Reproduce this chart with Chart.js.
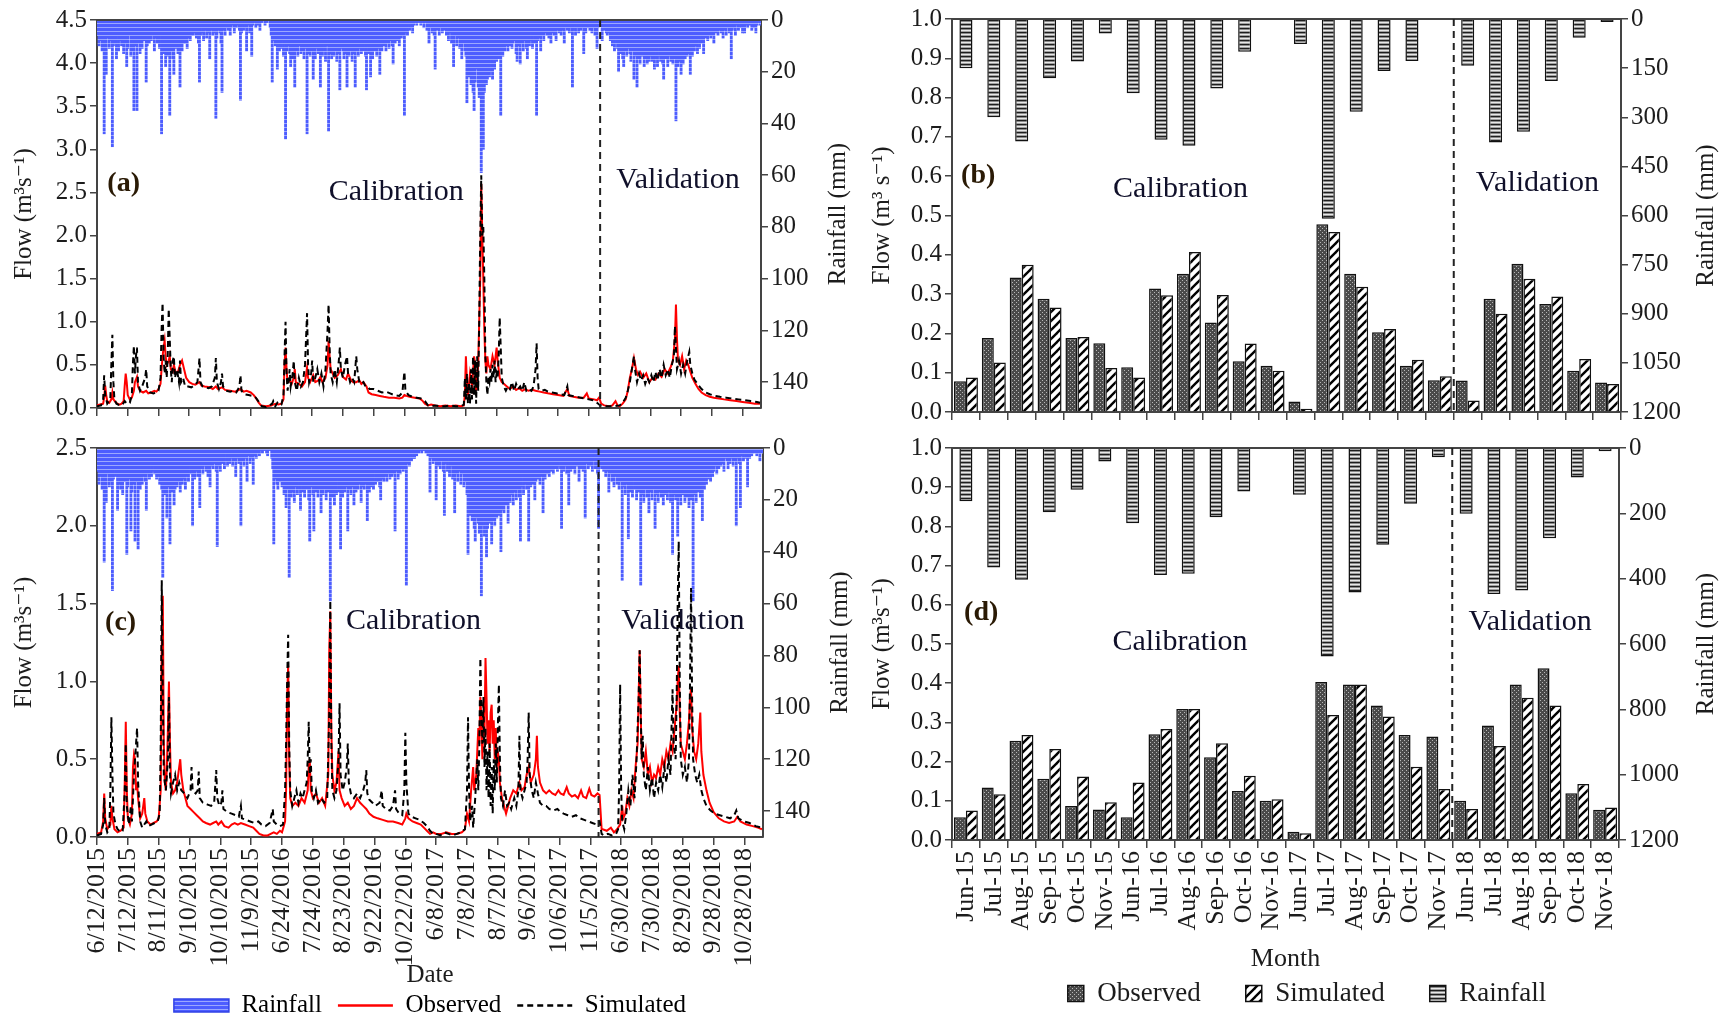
<!DOCTYPE html>
<html>
<head>
<meta charset="utf-8">
<script src="https://cdn.jsdelivr.net/npm/chart.js@4.4.1/dist/chart.umd.min.js"></script>
<style>
  html, body { margin: 0; padding: 0; background: #fff; }
  body { width: 1728px; height: 1019px; position: relative; overflow: hidden; }
  canvas { position: absolute; }
</style>
</head>
<body>
<canvas id="dailyA" width="860" height="430" style="left:0;top:0"></canvas>
<canvas id="dailyC" width="860" height="600" style="left:0;top:430px"></canvas>
<canvas id="monthB" width="878" height="430" style="left:850px;top:0"></canvas>
<canvas id="monthD" width="878" height="600" style="left:850px;top:430px"></canvas>
<script>
"use strict";
// tick labels
var dateLabels = ["6/12/2015", "7/12/2015", "8/11/2015", "9/10/2015", "10/10/2015", "11/9/2015",
  "6/24/2016", "7/24/2016", "8/23/2016", "9/22/2016", "10/22/2016",
  "6/8/2017", "7/8/2017", "8/7/2017", "9/6/2017", "10/6/2017", "11/5/2017",
  "6/30/2018", "7/30/2018", "8/29/2018", "9/28/2018", "10/28/2018"];
var monthLabels = ["Jun-15", "Jul-15", "Aug-15", "Sep-15", "Oct-15", "Nov-15",
  "Jun-16", "Jul-16", "Aug-16", "Sep-16", "Oct-16", "Nov-16",
  "Jun-17", "Jul-17", "Aug-17", "Sep-17", "Oct-17", "Nov-17",
  "Jun-18", "Jul-18", "Aug-18", "Sep-18", "Oct-18", "Nov-18"];

// (a) daily rainfall, mm (one value per day)
var rainA = [
  3,6,10,4,8,12,5,44,9,21,7,4,11,6,8,49,10,5,9,15,
  6,12,8,4,10,7,13,5,9,18,11,6,4,14,9,12,35,8,10,35,
  9,5,13,7,11,4,8,6,24,10,5,9,3,8,6,4,12,7,5,9,
  8,11,6,44,9,13,7,18,10,14,6,37,12,8,15,21,9,11,7,13,
  10,26,8,12,6,9,9,5,11,7,4,8,6,3,6,5,2,7,4,9,
  24,6,3,5,8,2,4,7,3,5,15,4,2,6,3,5,38,7,4,3,
  5,9,28,4,2,6,3,1,4,2,6,3,0,2,5,1,3,0,2,4,
  31,5,2,4,1,3,12,2,0,5,3,14,2,0,1,3,0,2,0,4,
  0,1,0,0,2,0,1,0,0,3,6,24,8,5,10,7,19,9,12,6,
  11,8,14,9,46,12,7,10,13,18,9,15,11,26,8,12,14,7,10,13,
  9,12,15,8,11,44,13,10,14,9,12,23,8,15,11,9,13,10,26,12,
  14,9,12,16,10,8,43,13,11,15,9,14,12,10,16,8,13,27,11,9,
  12,15,10,13,26,11,14,9,12,16,10,13,26,12,9,14,11,8,13,10,
  12,9,14,27,10,13,8,22,11,15,9,12,10,14,8,11,21,9,12,7,
  10,8,12,6,9,11,5,8,10,17,7,9,4,8,6,10,5,7,3,6,
  37,5,3,6,2,4,1,3,5,2,0,1,2,0,1,0,2,1,0,3,
  1,0,4,2,9,3,1,5,2,6,19,3,4,2,6,3,1,5,2,4,
  3,6,2,8,4,5,9,3,18,6,4,10,7,5,11,8,15,9,6,12,
  14,32,18,22,16,25,20,28,35,24,19,18,26,30,22,59,34,50,28,21,
  25,23,18,22,15,20,23,14,19,12,16,11,15,13,37,10,14,9,12,10,
  8,12,7,10,6,11,9,5,8,13,16,7,10,17,6,9,12,5,8,11,
  15,7,10,5,8,11,6,9,4,37,8,5,7,12,6,3,8,5,2,6,
  4,7,3,9,5,2,6,3,8,4,1,5,3,6,2,4,9,3,1,4,
  2,5,3,1,26,4,2,6,1,3,5,2,4,1,3,13,2,5,1,3,
  2,4,1,5,3,1,6,2,11,3,1,2,0,8,3,4,2,5,6,3,
  5,8,4,10,6,12,7,9,11,20,8,13,10,15,18,9,12,14,8,11,
  13,16,10,12,23,14,11,26,15,12,17,10,14,13,18,11,15,17,12,16,
  14,11,16,13,19,12,15,18,10,14,16,12,17,23,13,15,11,18,14,12,
  16,13,17,12,15,39,14,18,11,16,21,13,17,10,15,12,14,9,13,21,
  11,14,9,12,8,10,13,7,11,6,9,8,13,5,7,4,8,6,3,7,
  4,6,9,3,5,2,6,4,1,5,3,7,2,4,6,3,1,5,2,15,
  4,1,3,6,2,0,4,1,3,2,5,1,5,2,0,3,1,2,0,4,
  1,3,0,5,2,0,1,2
];
// (a) flow, [day, m3/s]
var obsA = [[0,0.03],[3,0.04],[6,0.05],[7,0.12],[8,0.26],[9,0.15],[10,0.08],[12,0.06],[14,0.1],[15,0.18],[16,0.1],[18,0.07],[20,0.05],[22,0.04],[24,0.05],[26,0.08],[27,0.25],[28,0.4],[29,0.3],[30,0.15],[32,0.1],[34,0.12],[36,0.2],[37,0.3],[39,0.36],[40,0.25],[42,0.2],[45,0.18],[48,0.2],[50,0.17],[53,0.18],[56,0.2],[58,0.19],[60,0.22],[62,0.28],[63,0.45],[64,0.6],[65,0.7],[66,0.78],[67,0.6],[68,0.5],[70,0.55],[71,0.6],[72,0.45],[74,0.42],[75,0.5],[77,0.4],[79,0.42],[81,0.5],[83,0.55],[85,0.45],[87,0.35],[90,0.3],[93,0.28],[96,0.27],[100,0.3],[102,0.26],[105,0.25],[110,0.24],[113,0.22],[116,0.25],[118,0.22],[122,0.24],[125,0.21],[130,0.2],[135,0.19],[140,0.22],[143,0.19],[146,0.2],[150,0.18],[153,0.15],[156,0.1],[158,0.06],[160,0.03],[165,0.02],[170,0.03],[174,0.05],[177,0.04],[180,0.05],[182,0.1],
  [183,0.5],[184,0.7],[185,0.45],[186,0.3],[188,0.32],[190,0.28],[192,0.35],[193,0.45],[194,0.3],[197,0.28],[200,0.25],[203,0.3],[205,0.47],[206,0.35],[208,0.3],[211,0.38],[213,0.3],[216,0.32],[218,0.36],[220,0.3],[223,0.35],[225,0.5],[226,0.78],[227,0.6],[228,0.45],[230,0.4],[232,0.35],[235,0.38],[238,0.45],[240,0.36],[243,0.33],[245,0.4],[248,0.32],[250,0.3],[253,0.3],[256,0.32],[258,0.28],[260,0.3],[263,0.25],[265,0.18],[268,0.16],[272,0.15],[276,0.14],[280,0.13],[285,0.12],[290,0.12],[295,0.11],[298,0.12],[300,0.15],[302,0.14],[305,0.13],[310,0.12],[315,0.11],[318,0.08],[320,0.05],[323,0.03],[326,0.04],
  [330,0.03],[335,0.02],[340,0.03],[345,0.02],[350,0.03],[355,0.02],[358,0.03],[359,0.15],[360,0.6],[361,0.3],[362,0.15],[364,0.4],[366,0.25],[368,0.6],[369,0.5],[370,0.2],[372,0.5],[374,1.5],[375,2.6],[376,2.0],[377,1.5],[378,0.9],[379,0.55],[380,0.4],[381,0.6],[382,0.5],[384,0.45],[386,0.6],[388,0.5],[390,0.7],[391,0.55],[393,0.35],[395,0.3],[397,0.28],[400,0.25],[403,0.22],[406,0.25],[409,0.21],[412,0.23],[415,0.2],[418,0.22],[421,0.2],[425,0.21],[428,0.2],[432,0.19],[436,0.18],[440,0.17],[445,0.16],[450,0.15],[455,0.14],[459,0.22],[461,0.14],[465,0.13],[470,0.12],[475,0.12],[478,0.17],[480,0.11],[485,0.1],[488,0.09],[490,0.12],[492,0.05],
  [495,0.03],[500,0.02],[503,0.03],[506,0.08],[508,0.03],[510,0.02],[513,0.05],[516,0.1],[518,0.2],[520,0.35],[522,0.45],[524,0.58],[526,0.45],[528,0.38],[530,0.42],[533,0.35],[536,0.4],[539,0.3],[542,0.35],[545,0.33],[548,0.4],[551,0.36],[554,0.45],[557,0.4],[560,0.48],[562,0.55],[564,0.8],[565,1.2],[566,0.8],[567,0.55],[569,0.5],[571,0.6],[573,0.45],[575,0.55],[577,0.5],[579,0.42],[581,0.35],[584,0.28],[587,0.22],[590,0.18],[594,0.15],[598,0.13],[602,0.12],[607,0.11],[612,0.1],[618,0.09],[624,0.08],[630,0.07],[636,0.06],[642,0.05],[647,0.05]];
var simA = [[0,0.02],[4,0.03],[6,0.1],[7,0.38],[8,0.15],[10,0.05],[13,0.1],[14,0.5],[15,0.85],[16,0.3],[17,0.1],[19,0.05],[22,0.03],[25,0.04],[27,0.08],[29,0.05],[32,0.06],[34,0.15],[35,0.5],[36,0.72],[37,0.4],[38,0.6],[39,0.7],[40,0.3],[42,0.2],[44,0.25],[47,0.35],[48,0.45],[49,0.25],[52,0.18],[55,0.17],[58,0.18],[60,0.2],[62,0.35],[63,0.9],[64,1.22],[65,0.6],[66,0.4],[67,0.55],[68,0.35],[69,0.6],[70,1.15],[71,0.8],[72,0.45],[73,0.3],[74,0.55],[75,0.6],[76,0.35],[78,0.45],[80,0.3],[81,0.55],[82,0.3],[84,0.35],[86,0.25],[89,0.25],[92,0.24],[95,0.26],[98,0.3],[100,0.58],[101,0.3],[103,0.25],[106,0.24],[109,0.23],[112,0.25],[115,0.35],[116,0.58],[117,0.3],[119,0.22],[121,0.3],[122,0.4],[123,0.25],[126,0.2],[130,0.19],[133,0.2],[136,0.18],[139,0.25],[140,0.38],[141,0.2],[144,0.16],[148,0.15],[152,0.14],[155,0.12],[158,0.07],[161,0.02],[165,0.01],[168,0.03],[171,0.05],[172,0.08],[174,0.02],[176,0.06],[178,0.03],[180,0.04],[182,0.15],
  [183,0.6],[184,1.0],[185,0.4],[186,0.2],[187,0.3],[188,0.45],[189,0.25],[191,0.4],[192,0.55],[193,0.3],[195,0.2],[197,0.35],[199,0.25],[201,0.3],[203,0.5],[204,0.8],[205,1.1],[206,0.5],[207,0.3],[209,0.4],[210,0.55],[211,0.3],[213,0.35],[215,0.45],[217,0.3],[219,0.4],[221,0.25],[223,0.45],[225,0.9],[226,1.2],[227,0.7],[228,0.4],[230,0.3],[232,0.45],[234,0.3],[236,0.55],[237,0.7],[238,0.45],[240,0.35],[242,0.5],[244,0.6],[245,0.4],[247,0.3],[249,0.35],[251,0.3],[253,0.6],[254,0.45],[256,0.3],[258,0.28],[260,0.3],[262,0.25],[264,0.25],[266,0.22],[270,0.22],[274,0.2],[278,0.18],[282,0.19],[286,0.17],[290,0.15],[295,0.14],[298,0.18],[300,0.42],[301,0.2],[304,0.15],[308,0.13],[312,0.12],[316,0.11],[320,0.08],[323,0.03],[326,0.02],
  [330,0.03],[335,0.02],[340,0.02],[345,0.03],[350,0.02],[355,0.02],[358,0.04],[359,0.35],[360,0.1],[361,0.4],[362,0.05],[363,0.3],[364,0.05],[365,0.45],[366,0.1],[367,0.6],[368,0.15],[369,0.55],[370,0.05],[371,0.6],[372,0.2],[373,1.0],[374,2.0],[375,2.7],[376,2.0],[377,2.1],[378,1.5],[379,0.6],[380,0.3],[381,0.15],[382,0.35],[383,0.3],[384,0.45],[385,0.3],[386,0.5],[387,0.35],[388,0.55],[389,0.3],[390,0.4],[391,0.35],[392,0.6],[393,1.05],[394,0.7],[395,0.35],[397,0.25],[399,0.2],[401,0.25],[403,0.22],[405,0.3],[407,0.2],[409,0.28],[411,0.22],[413,0.25],[415,0.2],[417,0.3],[419,0.2],[421,0.22],[424,0.2],[426,0.25],[428,0.45],[429,0.75],[430,0.35],[431,0.22],[434,0.2],[437,0.21],[440,0.19],[444,0.18],[448,0.17],[452,0.16],[456,0.15],[459,0.25],[460,0.15],[464,0.14],[468,0.13],[472,0.12],[476,0.11],[480,0.1],[484,0.09],[488,0.06],[491,0.03],
  [495,0.02],[500,0.02],[505,0.02],[510,0.03],[513,0.06],[516,0.12],[518,0.2],[520,0.3],[522,0.45],[524,0.6],[525,0.45],[527,0.3],[529,0.4],[531,0.32],[533,0.38],[535,0.28],[537,0.35],[539,0.3],[541,0.38],[543,0.3],[545,0.42],[547,0.32],[549,0.45],[551,0.35],[553,0.5],[555,0.38],[557,0.45],[559,0.35],[561,0.5],[563,0.6],[564,0.95],[565,0.7],[566,0.45],[568,0.55],[570,0.4],[572,0.5],[574,0.4],[576,0.55],[578,0.65],[579,0.5],[581,0.4],[583,0.33],[586,0.28],[590,0.22],[594,0.18],[598,0.16],[603,0.14],[608,0.13],[614,0.12],[620,0.11],[626,0.1],[632,0.09],[638,0.08],[644,0.07],[647,0.06]];

// (c) daily rainfall, mm
var rainC = [
  5,9,14,6,11,16,8,44,12,21,10,7,15,9,13,55,12,8,11,10,
  24,14,9,16,11,18,8,13,10,41,15,12,9,32,17,11,14,36,13,10,
  39,12,16,9,14,11,7,13,24,10,8,12,6,11,9,7,10,8,12,9,
  11,14,9,16,50,13,18,12,27,15,10,37,14,17,12,22,16,11,15,13,
  12,17,10,14,9,12,16,8,11,13,7,10,9,30,8,12,6,9,11,7,
  23,8,5,10,7,4,9,6,11,5,15,7,3,8,6,4,9,38,5,7,
  9,4,6,3,8,2,5,7,3,6,4,2,7,3,5,11,4,2,6,3,
  30,5,3,7,2,4,13,3,1,6,4,2,14,3,1,4,2,0,3,1,
  0,2,0,1,0,2,3,0,1,0,4,8,37,12,9,14,16,11,13,9,
  15,12,18,10,23,16,13,50,14,19,11,17,21,13,15,18,12,16,24,14,
  17,13,19,11,16,14,20,36,15,12,18,32,14,17,13,19,11,16,25,15,
  18,13,16,20,12,17,14,59,15,19,13,22,16,18,12,17,14,39,15,19,
  13,17,15,12,32,16,14,18,11,15,22,13,17,12,16,14,11,21,15,12,
  16,11,14,28,13,17,10,15,12,16,9,14,11,13,10,15,20,12,9,13,
  11,8,13,10,7,12,9,11,8,10,32,7,9,12,6,10,8,5,9,7,
  8,53,6,4,7,3,5,2,4,4,1,3,0,2,1,0,2,1,0,1,
  2,0,3,1,17,4,2,6,3,5,20,4,7,3,8,5,2,9,26,6,
  5,9,4,11,7,6,12,8,25,10,7,13,9,6,14,10,8,15,11,13,
  18,41,22,26,19,28,24,31,36,27,23,29,33,25,57,30,27,34,29,42,
  31,26,29,24,37,28,22,30,25,27,21,26,23,40,24,20,25,18,22,19,
  29,16,21,14,18,22,13,17,20,12,16,19,36,15,11,18,14,10,16,13,
  36,12,15,9,14,11,20,13,8,12,10,14,7,11,25,9,12,6,10,8,
  11,7,9,5,10,6,8,4,9,7,5,8,31,6,9,4,7,10,5,22,
  6,9,4,8,5,10,3,7,6,13,4,8,5,9,3,27,6,4,8,5,
  7,4,9,5,3,8,6,10,31,7,4,8,5,9,6,11,7,9,17,8,
  10,13,8,15,11,9,14,12,16,10,13,51,15,12,18,14,11,35,13,17,
  15,19,12,16,14,20,13,17,15,53,18,14,21,16,12,19,15,25,17,14,
  20,16,13,31,18,15,21,14,17,19,13,22,16,18,14,20,15,17,21,16,
  41,18,15,20,17,34,14,19,22,16,18,15,21,13,19,16,23,14,20,17,
  59,18,15,21,14,17,12,19,15,28,13,16,11,14,9,12,10,13,8,11,
  9,6,7,10,5,8,4,7,3,6,9,4,2,5,8,3,6,2,4,7,
  3,5,30,4,2,6,23,3,1,5,2,4,3,15,2,4,1,3,2,1,
  2,0,3,1,2,5,1,2
];
var obsC = [[0,0.02],[4,0.03],[6,0.1],[7,0.28],[8,0.12],[10,0.05],[13,0.08],[14,0.2],[15,0.12],[17,0.05],[20,0.03],[23,0.04],[26,0.06],[27,0.35],[28,0.74],[29,0.3],[30,0.12],[32,0.08],[34,0.15],[35,0.45],[36,0.53],[37,0.5],[38,0.3],[39,0.35],[40,0.25],[42,0.12],[44,0.15],[46,0.25],[47,0.15],[49,0.1],[52,0.08],[55,0.09],[58,0.1],[60,0.12],[62,0.3],[63,1.2],[64,1.55],[65,0.6],[66,0.35],[67,0.3],[68,0.45],[69,0.7],[70,1.0],[71,0.6],[72,0.35],[74,0.28],[76,0.3],[78,0.35],[80,0.45],[81,0.5],[82,0.4],[84,0.3],[86,0.25],[88,0.2],[91,0.18],[94,0.16],[97,0.14],[100,0.12],[103,0.1],[106,0.09],[110,0.08],[113,0.09],[116,0.1],[118,0.08],[121,0.1],[124,0.07],[128,0.06],[131,0.08],[134,0.09],[137,0.08],[140,0.09],[144,0.08],[148,0.07],[152,0.06],[155,0.04],[158,0.02],[162,0.01],[166,0.01],[169,0.02],[172,0.03],[175,0.02],[178,0.04],[180,0.03],
  [183,0.1],[184,0.3],[185,0.9],[186,1.1],[187,0.5],[188,0.25],[190,0.2],[193,0.22],[196,0.2],[199,0.25],[202,0.22],[205,0.3],[206,0.45],[207,0.5],[208,0.3],[210,0.25],[213,0.28],[216,0.22],[219,0.25],[222,0.2],[225,0.4],[226,1.2],[227,1.45],[228,0.7],[229,0.4],[231,0.3],[233,0.35],[235,0.55],[236,0.3],[238,0.25],[241,0.2],[244,0.22],[247,0.18],[250,0.2],[253,0.25],[256,0.22],[259,0.2],[262,0.18],[265,0.15],[269,0.13],[273,0.12],[278,0.11],[283,0.1],[288,0.1],[293,0.09],[297,0.08],[300,0.12],[301,0.15],[303,0.12],[307,0.1],[311,0.09],[315,0.08],[318,0.06],[321,0.04],[324,0.02],[327,0.03],
  [330,0.02],[335,0.02],[340,0.03],[345,0.02],[350,0.02],[355,0.03],[358,0.05],[360,0.15],[362,0.1],[364,0.3],[366,0.45],[367,0.3],[369,0.4],[371,0.7],[372,0.6],[373,0.9],[374,0.75],[375,0.5],[376,0.8],[377,0.65],[378,1.15],[379,0.9],[380,0.6],[381,0.75],[382,0.55],[383,0.8],[384,0.85],[385,0.6],[386,0.75],[387,0.5],[388,0.7],[389,0.45],[390,0.55],[391,0.5],[392,0.35],[394,0.25],[396,0.2],[398,0.15],[400,0.2],[402,0.25],[405,0.3],[408,0.28],[411,0.35],[413,0.3],[416,0.32],[418,0.4],[420,0.45],[422,0.35],[425,0.4],[427,0.5],[428,0.65],[429,0.45],[431,0.35],[434,0.3],[437,0.28],[440,0.3],[443,0.28],[446,0.27],[449,0.3],[451,0.28],[454,0.27],[457,0.32],[459,0.28],[462,0.26],[465,0.27],[468,0.25],[471,0.3],[473,0.26],[476,0.25],[479,0.31],[481,0.27],[484,0.26],[487,0.28],[489,0.27],[491,0.05],
  [492,0.05],[496,0.04],[500,0.06],[503,0.03],[506,0.05],[509,0.08],[511,0.2],[512,0.12],[514,0.15],[516,0.25],[518,0.2],[520,0.3],[522,0.25],[524,0.45],[526,0.6],[527,0.9],[528,1.2],[529,0.8],[530,0.5],[532,0.45],[534,0.55],[536,0.4],[538,0.45],[540,0.35],[542,0.4],[544,0.38],[546,0.45],[548,0.4],[550,0.5],[552,0.45],[554,0.55],[556,0.5],[558,0.6],[560,0.55],[562,0.7],[564,0.85],[565,1.0],[566,1.1],[567,0.8],[568,0.6],[570,0.55],[572,0.5],[574,0.6],[576,0.75],[577,0.9],[578,0.95],[579,0.7],[581,0.55],[583,0.5],[585,0.6],[587,0.8],[588,0.55],[590,0.4],[593,0.3],[596,0.22],[600,0.16],[605,0.12],[610,0.1],[615,0.09],[620,0.1],[623,0.13],[626,0.1],[632,0.08],[638,0.07],[643,0.06],[647,0.05]];
var simC = [[0,0.01],[4,0.02],[6,0.08],[7,0.25],[8,0.08],[10,0.03],[12,0.05],[13,0.3],[14,0.77],[15,0.4],[16,0.15],[18,0.08],[20,0.05],[23,0.03],[25,0.04],[27,0.3],[28,0.6],[29,0.2],[31,0.08],[33,0.2],[34,0.1],[36,0.4],[38,0.6],[39,0.7],[40,0.35],[42,0.1],[44,0.06],[46,0.08],[48,0.1],[50,0.07],[53,0.08],[56,0.09],[59,0.1],[61,0.15],[62,0.6],[63,1.65],[64,0.9],[65,0.4],[67,0.3],[69,0.5],[70,0.9],[71,0.4],[72,0.28],[74,0.35],[76,0.4],[78,0.3],[80,0.35],[82,0.3],[85,0.28],[88,0.25],[91,0.3],[92,0.45],[93,0.3],[96,0.28],[98,0.3],[99,0.42],[100,0.25],[103,0.22],[107,0.21],[111,0.2],[114,0.22],[116,0.43],[117,0.25],[119,0.2],[121,0.22],[122,0.3],[123,0.18],[127,0.16],[131,0.15],[135,0.14],[138,0.13],[140,0.2],[141,0.12],[145,0.11],[149,0.1],[153,0.09],[157,0.1],[160,0.08],[164,0.07],[168,0.09],[171,0.18],[172,0.1],[175,0.08],[178,0.07],[181,0.08],
  [183,0.3],[184,0.6],[185,1.0],[186,1.3],[187,0.6],[188,0.3],[190,0.2],[192,0.25],[194,0.3],[196,0.22],[198,0.28],[200,0.25],[202,0.3],[204,0.35],[205,0.5],[206,0.74],[207,0.4],[208,0.5],[209,0.3],[211,0.25],[213,0.3],[215,0.22],[218,0.25],[221,0.22],[224,0.25],[226,0.8],[227,1.52],[228,0.6],[229,0.3],[231,0.25],[233,0.3],[235,0.5],[236,0.86],[237,0.4],[239,0.3],[241,0.35],[243,0.45],[244,0.6],[245,0.35],[247,0.28],[250,0.25],[253,0.28],[256,0.25],[259,0.3],[261,0.35],[262,0.43],[263,0.28],[265,0.24],[268,0.22],[271,0.2],[275,0.22],[277,0.3],[278,0.2],[281,0.18],[285,0.17],[288,0.2],[290,0.3],[291,0.18],[294,0.15],[297,0.14],[299,0.3],[300,0.67],[301,0.35],[303,0.15],[306,0.13],[310,0.12],[314,0.11],[318,0.09],[321,0.07],[324,0.04],[327,0.02],
  [330,0.02],[334,0.01],[338,0.03],[342,0.02],[346,0.01],[350,0.02],[354,0.03],[358,0.05],[360,0.3],[361,0.77],[362,0.3],[363,0.1],[365,0.2],[366,0.06],[368,0.25],[370,0.5],[371,0.3],[372,0.6],[373,1.15],[374,0.8],[375,0.6],[376,0.9],[377,0.45],[378,0.7],[379,0.3],[380,0.55],[381,0.25],[382,0.6],[383,0.2],[384,0.45],[385,0.15],[386,0.5],[387,0.3],[388,0.6],[389,0.35],[390,0.7],[391,0.98],[392,0.5],[393,0.25],[395,0.2],[397,0.3],[399,0.2],[401,0.22],[403,0.18],[406,0.25],[408,0.2],[410,0.3],[411,0.65],[412,0.3],[414,0.25],[416,0.3],[418,0.35],[419,0.5],[420,0.8],[421,0.4],[423,0.3],[425,0.25],[427,0.35],[429,0.28],[431,0.22],[434,0.2],[437,0.2],[440,0.18],[444,0.17],[448,0.18],[451,0.16],[454,0.15],[458,0.14],[462,0.13],[466,0.14],[470,0.12],[474,0.11],[478,0.1],[482,0.09],[486,0.08],[489,0.1],[491,0.02],
  [493,0.01],[497,0.02],[501,0.01],[505,0.02],[507,0.05],[508,0.3],[509,0.98],[510,0.3],[511,0.1],[513,0.05],[515,0.15],[517,0.3],[519,0.2],[521,0.4],[523,0.25],[525,0.5],[527,0.9],[528,1.2],[529,0.8],[530,0.5],[531,0.65],[532,0.4],[534,0.3],[536,0.45],[538,0.3],[540,0.38],[542,0.25],[544,0.35],[546,0.3],[548,0.4],[550,0.32],[552,0.45],[554,0.35],[556,0.5],[558,0.4],[559,0.7],[560,0.95],[561,0.6],[563,0.5],[564,0.9],[565,1.5],[566,1.9],[567,1.0],[568,0.5],[570,0.4],[572,0.45],[574,0.35],[576,0.5],[577,1.0],[578,1.6],[579,0.9],[580,0.5],[582,0.4],[584,0.35],[586,0.4],[588,0.3],[590,0.25],[593,0.2],[597,0.17],[601,0.15],[606,0.14],[611,0.13],[616,0.12],[620,0.14],[622,0.17],[624,0.12],[629,0.1],[635,0.09],[641,0.07],[647,0.06]];

var splitA = 491, splitC = 488;   // day the validation period starts

// (b) monthly flow (m3/s) and rainfall (mm)
var obsB = [0.078,0.188,0.342,0.288,0.188,0.175, 0.114,0.314,0.352,0.228,0.129,0.118, 0.027,0.478,0.352,0.203,0.118,0.081, 0.080,0.288,0.377,0.275,0.105,0.075];
var simB = [0.088,0.126,0.375,0.266,0.191,0.112, 0.088,0.297,0.407,0.298,0.174,0.105, 0.008,0.458,0.319,0.211,0.133,0.091, 0.029,0.250,0.339,0.294,0.135,0.071];
var rainB = [150,300,374,181,130,44, 227,369,387,212,100,3, 76,610,283,159,128,3, 143,377,344,189,57,9];
// (d)
var obsD = [0.058,0.134,0.253,0.156,0.087,0.078, 0.058,0.270,0.334,0.211,0.125,0.100, 0.021,0.403,0.397,0.343,0.268,0.264, 0.100,0.292,0.397,0.438,0.119,0.077];
var simD = [0.075,0.117,0.268,0.232,0.162,0.096, 0.147,0.283,0.334,0.247,0.164,0.104, 0.017,0.319,0.397,0.315,0.187,0.130, 0.079,0.240,0.363,0.343,0.143,0.083];
var rainD = [163,366,403,197,128,41, 230,389,385,212,133,3, 143,638,442,296,171,28, 201,447,436,276,90,10];
var splitMonth = 18;   // Jun-18

var SERIF = '"Liberation Serif", "DejaVu Serif", serif';
Chart.defaults.font.family = SERIF;
Chart.defaults.color = "#1c1c1c";
Chart.defaults.animation = false;

function F(size, weight) { return { family: SERIF, size: size, weight: weight || "normal" }; }

function patterns(ctx) {
  function make(w, h, paint) {
    var c = document.createElement("canvas");
    c.width = w; c.height = h;
    paint(c.getContext("2d"));
    return ctx.createPattern(c, "repeat");
  }
  return {
    rain: make(2, 4, function (g) {
      g.fillStyle = "#4d5dff"; g.fillRect(0, 0, 2, 4);
      g.fillStyle = "#9ca7ff"; g.fillRect(0, 3, 2, 1);
    }),
    dots: make(4, 4, function (g) {
      g.fillStyle = "#4a4a4a"; g.fillRect(0, 0, 4, 4);
      g.fillStyle = "#b8b8b8"; g.fillRect(0, 0, 1, 1); g.fillRect(2, 2, 1, 1);
    }),
    hatch: make(9, 9, function (g) {
      g.fillStyle = "#fff"; g.fillRect(0, 0, 9, 9);
      g.strokeStyle = "#000"; g.lineWidth = 2.4;
      [-9, 0, 9].forEach(function (o) {
        g.beginPath(); g.moveTo(o - 1, 10); g.lineTo(o + 10, -1); g.stroke();
      });
    }),
    bands: make(1, 4, function (g) {
      ["#1e1e1e", "#8a8a8a", "#e8e8e8", "#a0a0a0"].forEach(function (c, i) {
        g.fillStyle = c; g.fillRect(0, i, 1, 1);
      });
    })
  };
}

// frame top line, validation split, notes and right-hand axis title
var decor = {
  id: "decor",
  afterDatasetsDraw: function (chart, args, o) {
    var ctx = chart.ctx, a = chart.chartArea, sx = chart.scales.x, sy = chart.scales.y;
    ctx.save();
    ctx.strokeStyle = "#444"; ctx.lineWidth = 2;
    ctx.beginPath(); ctx.moveTo(a.left, a.top); ctx.lineTo(a.right, a.top); ctx.stroke();
    if (o.split != null) {
      var px = o.between
        ? (sx.getPixelForValue(o.split - 1) + sx.getPixelForValue(o.split)) / 2
        : sx.getPixelForValue(o.split);
      ctx.setLineDash([7, 5]); ctx.strokeStyle = "#222"; ctx.lineWidth = 2;
      ctx.beginPath(); ctx.moveTo(px, a.top); ctx.lineTo(px, a.bottom); ctx.stroke();
      ctx.setLineDash([]);
    }
    ctx.textAlign = "center"; ctx.textBaseline = "middle";
    (o.notes || []).forEach(function (n) {
      ctx.font = n.font; ctx.fillStyle = n.color;
      ctx.fillText(n.text, sx.getPixelForValue(n.x), sy.getPixelForValue(n.y));
    });
    ctx.translate(chart.width - o.sideX, (a.top + a.bottom) / 2);
    ctx.rotate(-Math.PI / 2);
    ctx.font = "25px " + SERIF; ctx.fillStyle = "#1c1c1c";
    ctx.fillText(o.side, 0, 0);
    ctx.restore();
  }
};

var gridOpts = { drawOnChartArea: false, tickLength: 7, color: "#444", lineWidth: 1.5 };
var borderOpts = { color: "#444", width: 2 };
function fixW(w) { return function (s) { s.width = w; }; }
function fixH(h) { return function (s) { s.height = h; }; }
function plain(v) { return String(v); }

function notes(tag, at) {
  return [
    { text: tag, x: at[0][0], y: at[0][1], font: "bold 28px " + SERIF, color: "#2a1a05" },
    { text: "Calibration", x: at[1][0], y: at[1][1], font: "30px " + SERIF, color: "#10102a" },
    { text: "Validation", x: at[2][0], y: at[2][1], font: "30px " + SERIF, color: "#10102a" }
  ];
}

function dailyChart(id, cfg) {
  var ctx = document.getElementById(id).getContext("2d");
  var p = patterns(ctx);
  return new Chart(ctx, {
    type: "bar",
    data: {
      datasets: [
        { type: "bar", label: "Rainfall", yAxisID: "y2", order: 3,
          data: cfg.rain.map(function (v, i) { return { x: i, y: v }; }),
          backgroundColor: p.rain, borderColor: "#3142e6", borderWidth: 0, barThickness: 2.2 },
        { type: "line", label: "Observed", yAxisID: "y", order: 2, data: cfg.obs,
          borderColor: "#ff0000", borderWidth: 2, pointRadius: 0, tension: 0 },
        { type: "line", label: "Simulated", yAxisID: "y", order: 1, data: cfg.sim,
          borderColor: "#000", borderWidth: 2, borderDash: [6, 4], pointRadius: 0, tension: 0 }
      ]
    },
    options: {
      responsive: false,
      events: [],
      layout: { padding: cfg.padding },
      scales: {
        x: {
          type: "linear", min: 0, max: 648, offset: false,
          grid: Object.assign({ offset: false }, gridOpts, { tickLength: 8 }), border: borderOpts,
          ticks: {
            display: cfg.showDates, stepSize: 30, includeBounds: false, autoSkip: false,
            minRotation: 90, maxRotation: 90, padding: 3, font: F(26),
            callback: function (v) { return dateLabels[Math.round(v / 30)]; }
          },
          title: { display: cfg.showDates, text: "Date", font: F(25), padding: { top: 0, bottom: -13 } },
          afterFit: fixH(cfg.xh)
        },
        y: {
          position: "left", min: 0, max: cfg.flowMax,
          grid: gridOpts, border: borderOpts,
          ticks: { stepSize: 0.5, padding: 3, font: F(25), callback: function (v) { return v.toFixed(1); } },
          title: { display: true, text: "Flow (m\u00b3s\u207b\u00b9)", font: F(25), padding: { top: 9 } },
          afterFit: fixW(97)
        },
        y2: {
          position: "right", reverse: true, min: 0, max: 150,
          grid: gridOpts, border: borderOpts,
          ticks: { stepSize: 20, includeBounds: false, padding: 3, font: F(25), callback: plain },
          afterFit: fixW(cfg.y2w)
        }
      },
      plugins: {
        tooltip: { enabled: false },
        legend: {
          display: cfg.showDates, position: "bottom",
          labels: {
            usePointStyle: true, pointStyleWidth: 55, boxHeight: 13, padding: 16,
            font: F(25), color: "#1c1c1c",
            generateLabels: function (chart) {
              return chart.data.datasets.map(function (ds, i) {
                var isLine = ds.type === "line";
                return {
                  text: ds.label, datasetIndex: i, hidden: false,
                  fillStyle: ds.backgroundColor, strokeStyle: ds.borderColor,
                  lineWidth: isLine ? 2.5 : 1.5, lineDash: ds.borderDash || [],
                  pointStyle: isLine ? "line" : "rect"
                };
              });
            }
          }
        },
        decor: { split: cfg.split, notes: cfg.notes, side: "Rainfall (mm)", sideX: cfg.sideX }
      }
    },
    plugins: [decor]
  });
}

function monthChart(id, cfg) {
  var ctx = document.getElementById(id).getContext("2d");
  var p = patterns(ctx);
  return new Chart(ctx, {
    type: "bar",
    data: {
      labels: monthLabels,
      datasets: [
        { label: "Observed", data: cfg.obs, yAxisID: "y", backgroundColor: p.dots,
          borderColor: "#111", borderWidth: 1.5, categoryPercentage: 0.86, barPercentage: 1 },
        { label: "Simulated", data: cfg.sim, yAxisID: "y", backgroundColor: p.hatch,
          borderColor: "#111", borderWidth: 1.5, categoryPercentage: 0.86, barPercentage: 1 },
        { label: "Rainfall", data: cfg.rain, yAxisID: "y2", backgroundColor: p.bands,
          borderColor: "#111", borderWidth: 1.5, grouped: false, categoryPercentage: 0.9, barPercentage: 0.52 }
      ]
    },
    options: {
      responsive: false,
      events: [],
      layout: { padding: cfg.padding },
      scales: {
        x: {
          grid: Object.assign({ offset: true }, gridOpts, { tickLength: 8 }), border: borderOpts,
          ticks: { display: cfg.showMonths, autoSkip: false, minRotation: 90, maxRotation: 90, padding: 3, font: F(26) },
          title: { display: cfg.showMonths, text: "Month", font: F(26), padding: { top: 0, bottom: -40 } },
          afterFit: fixH(cfg.xh)
        },
        y: {
          position: "left", min: 0, max: 1,
          grid: gridOpts, border: borderOpts,
          ticks: { stepSize: 0.1, padding: 3, font: F(25), callback: function (v) { return v.toFixed(1); } },
          title: { display: true, text: cfg.flowTitle, font: F(25), padding: { top: cfg.titlePad } },
          afterFit: fixW(cfg.yw)
        },
        y2: {
          position: "right", reverse: true, min: 0, max: 1200,
          grid: gridOpts, border: borderOpts,
          ticks: { stepSize: cfg.rainStep, padding: 3, font: F(25), callback: plain },
          afterFit: fixW(cfg.y2w)
        }
      },
      plugins: {
        tooltip: { enabled: false },
        legend: {
          display: cfg.showMonths, position: "bottom",
          labels: { boxWidth: 16, boxHeight: 16, padding: 45, font: F(27), color: "#1c1c1c" }
        },
        decor: { split: splitMonth, between: true, notes: cfg.notes, side: "Rainfall (mm)", sideX: 22 }
      }
    },
    plugins: [decor]
  });
}

document.addEventListener("DOMContentLoaded", function () {
  dailyChart("dailyA", {
    rain: rainA, obs: obsA, sim: simA, flowMax: 4.5, split: splitA,
    showDates: false, xh: 22, y2w: 99, sideX: 22,
    padding: { top: 20, left: 0, right: 0, bottom: 0 },
    notes: notes("(a)", [[26, 2.6], [292, 2.5], [567, 2.64]])
  });
  dailyChart("dailyC", {
    rain: rainC, obs: obsC, sim: simC, flowMax: 2.5, split: splitC,
    showDates: true, xh: 140, y2w: 97, sideX: 20,
    padding: { top: 16, left: 0, right: 0, bottom: 2 },
    notes: notes("(c)", [[23, 1.38], [308, 1.39], [570, 1.39]])
  });
  monthChart("monthB", {
    obs: obsB, sim: simB, rain: rainB, rainStep: 150, showMonths: false,
    flowTitle: "Flow (m\u00b3 s\u207b\u00b9)", titlePad: 17, yw: 102, y2w: 107, xh: 18,
    padding: { top: 19, left: 0, right: 0, bottom: 0 },
    notes: notes("(b)", [[0.44, 0.6], [7.7, 0.567], [20.5, 0.583]])
  });
  monthChart("monthD", {
    obs: obsD, sim: simD, rain: rainD, rainStep: 200, showMonths: true,
    flowTitle: "Flow (m\u00b3s\u207b\u00b9)", titlePad: -19, yw: 66, y2w: 109, xh: 95,
    padding: { top: 18, left: 36, right: 0, bottom: 13 },
    notes: notes("(d)", [[0.55, 0.58], [7.7, 0.505], [20.3, 0.556]])
  });
});
</script>
</body>
</html>
